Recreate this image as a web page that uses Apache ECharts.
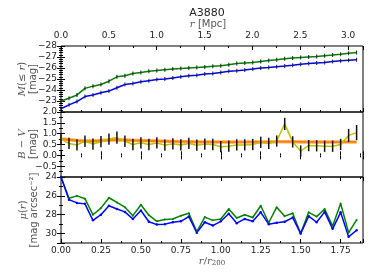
<!DOCTYPE html>
<html><head><meta charset="utf-8">
<script src="https://cdn.jsdelivr.net/npm/echarts@6/dist/echarts.min.js"></script>
<style>html,body{margin:0;padding:0;background:#fff}#c{width:374px;height:280px}</style>
</head><body><div id="c"></div>
<script>
// radius in units of r200
const radius = [0.00,0.05,0.10,0.15,0.20,0.25,0.30,0.35,0.40,0.45,0.50,0.55,0.60,0.65,0.70,0.75,0.80,0.85,0.90,0.95,
                1.00,1.05,1.10,1.15,1.20,1.25,1.30,1.35,1.40,1.45,1.50,1.55,1.60,1.65,1.70,1.75,1.80,1.85];
// cumulative magnitude M(<=r)
const magGreen = [-23.0,-23.25,-23.55,-24.15,-24.35,-24.5,-24.8,-25.2,-25.3,-25.5,-25.6,-25.7,-25.78,-25.85,-25.9,-25.95,-26.0,-26.05,-26.1,-26.15,
                  -26.2,-26.3,-26.4,-26.45,-26.5,-26.6,-26.68,-26.75,-26.85,-26.9,-26.95,-27.0,-27.05,-27.12,-27.18,-27.25,-27.35,-27.4];
const magBlue  = [-22.3,-22.65,-22.95,-23.4,-23.55,-23.75,-23.9,-24.2,-24.5,-24.6,-24.75,-24.85,-24.95,-25.0,-25.1,-25.2,-25.3,-25.35,-25.45,-25.5,
                  -25.6,-25.7,-25.75,-25.82,-25.9,-26.0,-26.05,-26.12,-26.18,-26.25,-26.33,-26.4,-26.45,-26.5,-26.58,-26.65,-26.7,-26.75];
// B - V colour
const bvYellow = [0.75,0.55,0.48,0.65,0.52,0.63,0.75,0.82,0.65,0.50,0.58,0.50,0.57,0.47,0.53,0.48,0.55,0.47,0.52,0.50,
                  0.40,0.42,0.48,0.48,0.50,0.60,0.55,0.66,1.45,0.62,0.20,0.45,0.44,0.42,0.42,0.50,0.92,1.05];
const bvErr    = [0.26,0.26,0.26,0.26,0.26,0.26,0.26,0.28,0.26,0.26,0.26,0.26,0.26,0.26,0.26,0.26,0.26,0.26,0.26,0.26,
                  0.26,0.26,0.26,0.26,0.26,0.26,0.26,0.26,0.28,0.26,0.26,0.26,0.26,0.26,0.26,0.26,0.3,0.35];
const bvOrange = [0.76,0.72,0.68,0.66,0.66,0.68,0.70,0.72,0.71,0.69,0.68,0.67,0.66,0.65,0.64,0.63,0.63,0.62,0.62,0.62,
                  0.61,0.61,0.61,0.61,0.62,0.62,0.62,0.63,0.63,0.63,0.62,0.62,0.62,0.61,0.61,0.61,0.62,0.62];
// surface brightness mu(r)
const muGreen = [24.0,26.25,26.0,26.3,28.0,27.3,26.2,26.7,27.2,28.1,26.95,28.05,28.7,28.5,28.45,28.1,27.85,29.8,28.25,28.6,
                 28.45,27.4,28.35,28.0,28.3,27.05,28.85,27.2,28.15,27.85,30.0,27.75,28.2,27.4,29.2,26.8,29.9,28.55];
const muBlue  = [24.0,26.4,26.75,26.85,28.6,28.0,27.05,27.4,27.7,28.45,27.55,28.75,29.05,29.0,28.8,28.7,28.2,29.9,28.8,29.15,
                 28.7,27.9,28.9,28.45,28.7,27.75,29.0,28.85,28.75,28.3,30.0,28.15,28.8,27.7,29.5,27.75,30.35,29.65];

const xMax = 1.89;      // r/r200
const mpcMax = 3.155;   // r [Mpc] at the same right edge

const pair = (ys) => radius.map((x, i) => [x, ys[i]]);
const minus = (s) => String(s).replace('-', '\u2212');
const tickFont = {fontFamily: 'DejaVu Sans', fontSize: 9, color: '#222'};
const tick = {show: true, inside: true, length: 4, lineStyle: {color: '#000', width: 1}};
const minor = (n) => ({show: true, splitNumber: n, length: 2, lineStyle: {color: '#000', width: 1}});

const L = 61, R = 11;
const grids = [
  {left: L, right: R, top: 46, height: 66, show: true, borderColor: '#000', borderWidth: 1},
  {left: L, right: R, top: 112, height: 65, show: true, borderColor: '#000', borderWidth: 1},
  {left: L, right: R, top: 177, height: 66, show: true, borderColor: '#000', borderWidth: 1}
];

function xAx(gi, pos, showLabel) {
  return {type: 'value', gridIndex: gi, position: pos, min: 0, max: xMax, interval: 0.25,
    axisLine: {show: false}, axisTick: tick, minorTick: minor(2), splitLine: {show: false},
    axisLabel: {show: showLabel, margin: 3, ...tickFont,
      formatter: v => (Math.abs(v / 0.25 - Math.round(v / 0.25)) < 1e-6 ? v.toFixed(2) : '')}};
}
function yAx(gi, pos, opts, fmt) {
  return Object.assign({type: 'value', gridIndex: gi, position: pos,
    axisLine: {show: false}, axisTick: tick, splitLine: {show: false},
    axisLabel: {show: pos === 'left', margin: 4, ...tickFont, formatter: fmt}}, opts);
}

const fmtMag = v => (v === -22 ? '' : minus(v));
const fmtBV = v => (v <= -1 ? '' : minus(v.toFixed(1)));
const fmtMu = v => (v % 2 === 0 && v <= 30 ? String(v) : '');

const xAxes = [
  xAx(0, 'bottom', false),
  {type: 'value', gridIndex: 0, position: 'top', min: 0, max: mpcMax, interval: 0.5,
    axisLine: {show: false}, axisTick: tick, minorTick: minor(2), splitLine: {show: false},
    axisLabel: {show: true, margin: 6, ...tickFont,
      formatter: v => (Math.abs(v / 0.5 - Math.round(v / 0.5)) < 1e-6 ? v.toFixed(1) : '')}},
  xAx(1, 'bottom', false), xAx(1, 'top', false),
  xAx(2, 'bottom', true), xAx(2, 'top', false)
];
const yAxes = [
  yAx(0, 'left', {min: -28, max: -22, interval: 1, inverse: true, minorTick: minor(5)}, fmtMag),
  yAx(0, 'right', {min: -28, max: -22, interval: 1, inverse: true, minorTick: minor(5)}, fmtMag),
  yAx(1, 'left', {min: -1, max: 2, interval: 0.5, minorTick: minor(2)}, fmtBV),
  yAx(1, 'right', {min: -1, max: 2, interval: 0.5, minorTick: minor(2)}, fmtBV),
  yAx(2, 'left', {min: 24, max: 31, interval: 2, inverse: true, minorTick: minor(2)}, fmtMu),
  yAx(2, 'right', {min: 24, max: 31, interval: 2, inverse: true, minorTick: minor(2)}, fmtMu)
];

function lineS(xi, yi, data, color, width, sym, symSize, symColor, z) {
  return {type: 'line', xAxisIndex: xi, yAxisIndex: yi, data: data, z: z || 2,
    lineStyle: {color: color, width: width}, itemStyle: {color: symColor || color},
    symbol: sym || 'none', symbolSize: symSize || 0, showSymbol: !!sym, animation: false, silent: true};
}

const errData = radius.map((x, i) => [x, bvYellow[i] - bvErr[i], bvYellow[i] + bvErr[i]]);

const series = [
  lineS(0, 0, pair(magGreen), '#008000', 1.5, 'rect', [1, 4], '#1a1a1a'),
  lineS(0, 0, pair(magBlue), '#0000ff', 1.5, 'rect', [1, 4], '#1a1a1a'),
  lineS(2, 2, pair(bvOrange), '#ffb066', 3.5, null, 0, null, 1),
  lineS(2, 2, pair(bvOrange), '#ff7f00', 1.8, null, 0, null, 2),
  lineS(2, 2, pair(bvYellow), '#bfbf00', 1.5, null, 0, null, 3),
  {type: 'custom', xAxisIndex: 2, yAxisIndex: 2, data: errData, z: 4, animation: false, silent: true,
    encode: {x: 0, y: [1, 2]},
    renderItem: function (params, api) {
      const p1 = api.coord([api.value(0), api.value(1)]);
      const p2 = api.coord([api.value(0), api.value(2)]);
      return {type: 'line', shape: {x1: p1[0], y1: p1[1], x2: p2[0], y2: p2[1]},
        style: {stroke: '#111', lineWidth: 1.5}};
    }},
  lineS(4, 4, pair(muGreen), '#008000', 1.5, 'circle', 2, '#008000'),
  lineS(4, 4, pair(muBlue), '#0000ff', 1.5, 'circle', 2.5, '#0000ff')
];

const serif = {fontFamily: 'DejaVu Serif', fontStyle: 'italic', fontSize: 10, fill: '#555'};
const sans = {fontFamily: 'DejaVu Sans', fontSize: 10, fill: '#555'};
function yName(cx, cy, text, rich) {
  return {type: 'text', x: cx, y: cy, rotation: Math.PI / 2,
    style: {text: text, fontFamily: 'DejaVu Sans', fontSize: 10, fill: '#555', align: 'center', verticalAlign: 'middle',
      lineHeight: 11, rich: rich}};
}
const richY = {i: serif, n: sans};

const option = {
  animation: false,
  grid: grids, xAxis: xAxes, yAxis: yAxes, series: series,
  graphic: [
    {type: 'text', x: 207, y: 13, style: {text: 'A3880', fontFamily: 'DejaVu Sans', fontSize: 11, fill: '#222', align: 'center', verticalAlign: 'middle'}},
    {type: 'text', x: 208, y: 24, style: {text: '{i|r} {n|[Mpc]}', align: 'center', verticalAlign: 'middle',
      rich: {i: {fontFamily: 'DejaVu Serif', fontStyle: 'italic', fontSize: 10, fill: '#555'}, n: {fontFamily: 'DejaVu Sans', fontSize: 10, fill: '#555'}}}},
    yName(28, 79, '{i|M}{n|(≤ }{i|r}{n|)}\n{n|[mag]}', richY),
    yName(28, 144, '{i|B}{n| − }{i|V}\n{n|[mag]}', richY),
    yName(29, 210, '{i|μ}{n|(}{i|r}{n|)}\n{n|[mag arcsec⁻²]}', richY),
    {type: 'text', x: 212, y: 261, style: {text: '{i|r}{n|/}{i|r}{s|200}', align: 'center', verticalAlign: 'middle',
      rich: {i: {fontFamily: 'DejaVu Serif', fontStyle: 'italic', fontSize: 10, fill: '#555'},
             n: {fontFamily: 'DejaVu Serif', fontSize: 10, fill: '#555'},
             s: {fontFamily: 'DejaVu Serif', fontSize: 7, fill: '#555', padding: [5, 0, 0, 0]}}}}
  ]
};
const chart = echarts.init(document.getElementById('c'), null, {renderer: 'canvas'});
chart.setOption(option);
</script></body></html>
